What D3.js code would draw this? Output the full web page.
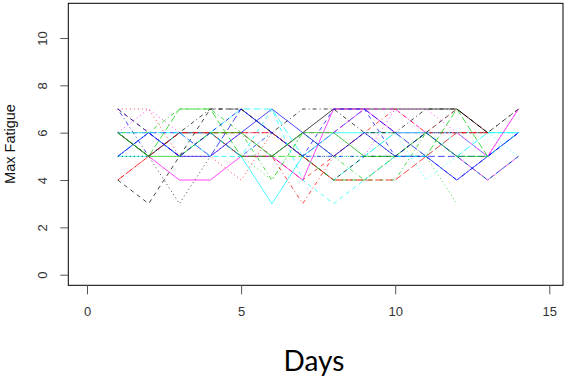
<!DOCTYPE html>
<html>
<head>
<meta charset="utf-8">
<script src="https://cdn.jsdelivr.net/npm/d3@7"></script>
<style>
  body { margin: 0; background: #fff; }
  svg { display: block; }
</style>
</head>
<body>
<div id="canvas"></div>
<script>
"use strict"

let svgWidth = 569
let svgHeight = 379

/* plot box (R style frame) */
let boxLeft = 68.3
let boxRight = 563
let boxTop = 3.3
let boxBottom = 285.3

/* tick labels */
let xTicks = [0, 5, 10, 15]
let yTicks = [0, 2, 4, 6, 8, 10]

/* Max fatigue per patient, one value per day starting at day 1 */
let days = [1, 2, 3, 4, 5, 6, 7, 8, 9, 10, 11, 12, 13, 14]

let fatigue = [
    [6, 5, 6, 6, 5, 5, 6, 7, 7, 7, 7, 7, 6],
    [7, 6, 5, 6, 6, 5, 4, 5, 6, 6, 6, 6, 6],
    [7, 6, 5, 6, 5, 4, 6, 5, 5, 6, 5, 3],
    [7, 5, 6, 6, 5, 6, 5, 5, 5, 5, 5, 4, 5, 6],
    [6, 6, 5, 6, 7, 7, 5, 4, 5, 6, 6, 5, 6, 6],
    [6, 5, 4, 4, 5, 5, 4, 7, 7, 6, 6, 6, 5, 7],
    [4, 3, 5, 7, 7, 6, 5, 4, 5, 5, 6, 7, 6, 7],
    [7, 7, 5, 5, 4, 6, 5, 4, 4, 5, 6, 7, 6],
    [6, 6, 7, 7, 6, 4, 6, 5, 4, 4, 6, 5, 4, 5],
    [5, 6, 6, 5, 7, 6, 5, 6, 7, 6, 5, 5, 5, 6],
    [5, 5, 6, 6, 5, 3, 5, 6, 6, 6, 6, 6, 6, 6],
    [6, 6, 5, 6, 6, 5, 6, 6, 7, 7, 6, 5, 4, 5],
    [5, 5, 3, 5, 6, 6, 5, 5, 6, 5, 6, 6, 6, 7],
    [4, 5, 6, 6, 5, 5, 3, 5, 6, 7, 6, 6, 6],
    [6, 5, 7, 7, 5, 5, 5, 4, 4, 5, 5, 7, 5],
    [5, 6, 5, 5, 6, 7, 6, 5, 6, 5, 5, 4, 5, 6],
    [6, 6, 6, 5, 5, 7, 4, 3, 4, 5, 5, 6, 5, 6],
    [6, 7, 6, 5, 6, 6, 5, 6, 5, 7, 7, 6, 5, 7],
    [6, 5, 6, 7, 7, 6, 7, 7, 6, 6, 7, 7, 6],
    [4, 5, 6, 6, 6, 6, 5, 4, 4, 4, 5, 6, 6],
    [6, 5, 5, 6, 6, 5, 6, 6, 5, 5, 6, 5, 5],
    [7, 6, 5, 6, 7, 6, 5, 7, 7, 5, 6, 5, 4, 5],
    [5, 6, 6, 5, 5, 6, 5, 5, 5, 6, 4, 5, 6, 5]
]

/* R matplot default palette and line types, cycled by series */
let palette = ["#000000", "#FF0000", "#00CD00", "#0000FF", "#00FFFF", "#FF00FF"]
let dashes = ["none", "4,4", "1,3", "1,3,4,3", "7,3"]

let svg = d3.select("#canvas")
    .append("svg")
    .attr("width", svgWidth)
    .attr("height", svgHeight)

/* Scales */
let xScale = d3.scaleLinear()
    .domain([0, 15])
    .range([87, 549.3])

let yScale = d3.scaleLinear()
    .domain([0, 10])
    .range([274.7, 38])

/* Lines */
let line = d3.line()
    .x(function (d, i) { return xScale(days[i]) })
    .y(function (d) { return yScale(d) })

svg.selectAll("path.series")
    .data(fatigue)
    .join("path")
    .attr("class", "series")
    .attr("d", line)
    .attr("fill", "none")
    .attr("stroke", function (d, i) { return palette[i % palette.length] })
    .attr("stroke-dasharray", function (d, i) { return dashes[i % dashes.length] })
    .attr("stroke-width", 1)
    .attr("opacity", 0.72)

/* Frame */
svg.append("rect")
    .attr("x", boxLeft)
    .attr("y", boxTop)
    .attr("width", boxRight - boxLeft)
    .attr("height", boxBottom - boxTop)
    .attr("fill", "none")
    .attr("stroke", "black")
    .attr("stroke-width", 1)

/* Axes */
let xAxis = svg.append("g")
    .attr("transform", "translate(0," + boxBottom + ")")
    .call(d3.axisBottom(xScale).tickValues(xTicks).tickSize(9).tickPadding(12))

let yAxis = svg.append("g")
    .attr("transform", "translate(" + boxLeft + ",0)")
    .call(d3.axisLeft(yScale).tickValues(yTicks).tickSize(8).tickPadding(14))

xAxis.select(".domain").remove()
yAxis.select(".domain").remove()

svg.selectAll(".tick line").attr("stroke", "#555")
svg.selectAll(".tick text")
    .attr("fill", "#333")
    .style("font-family", "Liberation Sans, Arial, sans-serif")
    .style("font-size", "13px")

/* y tick labels are parallel to the axis, as in R */
yAxis.selectAll(".tick text")
    .attr("x", 0)
    .attr("dy", 0)
    .attr("text-anchor", "middle")
    .attr("transform", "translate(-25.6,0) rotate(-90)")
    .attr("dominant-baseline", "central")

/* Axis titles */
svg.append("text")
    .attr("transform", "translate(15,144) rotate(-90)")
    .attr("text-anchor", "middle")
    .style("font-family", "Liberation Sans, Arial, sans-serif")
    .style("font-size", "14.5px")
    .attr("fill", "#111")
    .text("Max Fatigue")

svg.append("text")
    .attr("x", 314)
    .attr("y", 371)
    .attr("text-anchor", "middle")
    .style("font-family", "Lato, sans-serif")
    .style("font-size", "28px")
    .attr("fill", "#000")
    .text("Days")
</script>
</body>
</html>
